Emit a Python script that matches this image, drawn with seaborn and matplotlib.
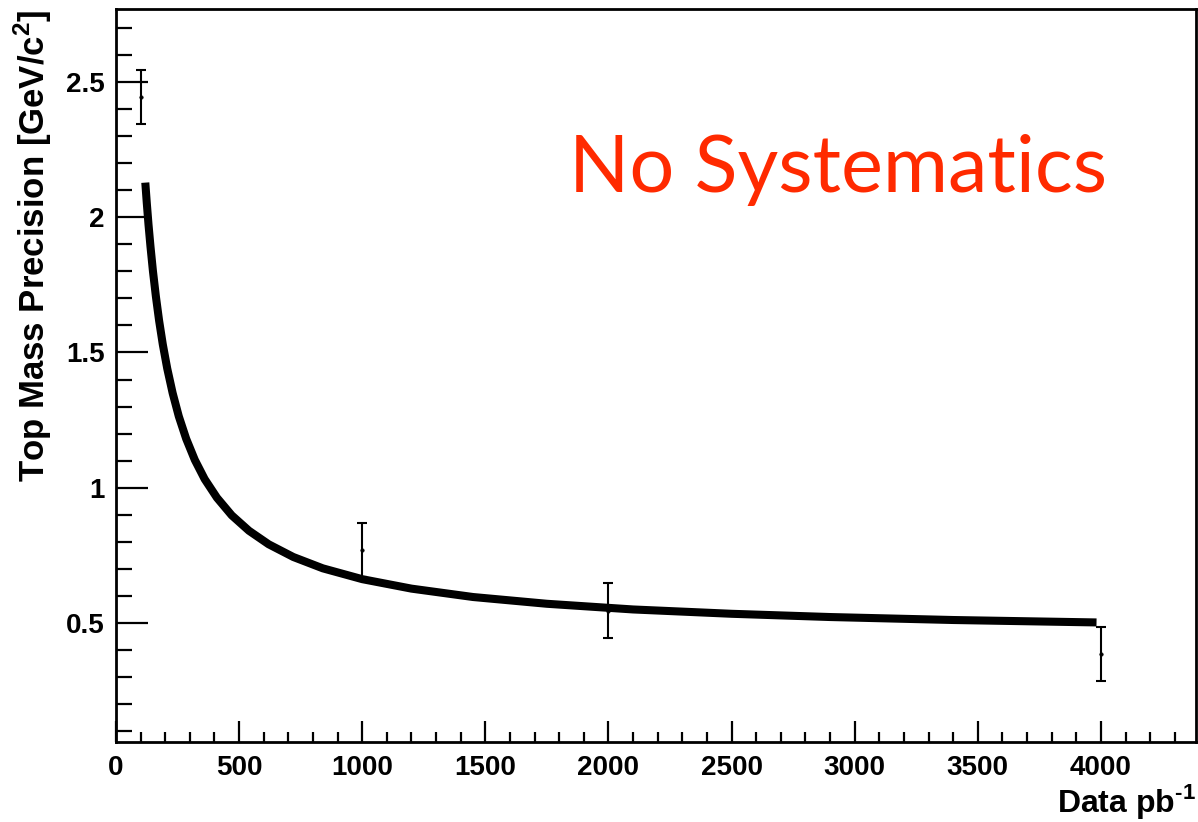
import numpy as np
import pandas as pd
import matplotlib
matplotlib.use("Agg")
import matplotlib.pyplot as plt
import seaborn as sns
from matplotlib.ticker import MultipleLocator, FormatStrFormatter

# Measured points (luminosity in pb^-1, precision in GeV/c^2, error)
lumi = [100, 1000, 2000, 4000]
precision = [2.445, 0.771, 0.546, 0.385]
error = [0.10, 0.10, 0.10, 0.10]

# Fitted curve, values
curve_lumi = [119, 125, 132, 140, 150, 162, 175, 190, 208, 230, 255, 285,
              320, 360, 410, 470, 540, 620, 720, 840, 1000, 1200, 1450,
              1750, 2100, 2500, 2900, 3400, 3982]
curve_prec = [2.128, 2.053, 1.973, 1.892, 1.801, 1.707, 1.618, 1.530,
              1.441, 1.350, 1.264, 1.181, 1.103, 1.032, 0.963, 0.898,
              0.841, 0.791, 0.744, 0.702, 0.662, 0.627, 0.596, 0.571,
              0.550, 0.534, 0.522, 0.511, 0.502]

xticks = [0, 500, 1000, 1500, 2000, 2500, 3000, 3500, 4000]
yticks = [0.5, 1, 1.5, 2, 2.5]

sns.set_theme(style="ticks")
plt.rcParams['font.family'] = ['Liberation Sans', 'DejaVu Sans']
plt.rcParams['mathtext.fontset'] = 'custom'
plt.rcParams['mathtext.rm'] = 'Liberation Sans:bold'
plt.rcParams['mathtext.bf'] = 'Liberation Sans:bold'
plt.rcParams['text.color'] = 'black'
plt.rcParams['axes.labelcolor'] = 'black'
plt.rcParams['xtick.color'] = 'black'
plt.rcParams['ytick.color'] = 'black'

fig = plt.figure(figsize=(11.98, 8.22), dpi=100)
ax = fig.add_axes([116 / 1198, 80 / 822, 1080 / 1198, 732.5 / 822])

df_curve = pd.DataFrame({"lumi": curve_lumi, "prec": curve_prec})
sns.lineplot(data=df_curve, x="lumi", y="prec", ax=ax, color="black",
             linewidth=5.8, sort=True, estimator=None,
             solid_joinstyle='round', solid_capstyle='butt')

ax.errorbar(lumi, precision, yerr=error, fmt="none", ecolor="black",
            elinewidth=1.5, capsize=3.5, capthick=1.5)
df_pts = pd.DataFrame({"lumi": lumi, "prec": precision})
sns.scatterplot(data=df_pts, x="lumi", y="prec", ax=ax, color="black",
                s=6, edgecolor="black", linewidth=0.5, zorder=5)

ax.set_xlim(0, 4386)
ax.set_ylim(0.06, 2.768)

ax.set_xticks(xticks)
ax.set_yticks(yticks)
ax.xaxis.set_minor_locator(MultipleLocator(100))
ax.yaxis.set_minor_locator(MultipleLocator(0.1))
ax.yaxis.set_major_formatter(FormatStrFormatter('%g'))

ax.tick_params(axis='both', which='both', direction='in', width=1.6,
               color='black', labelcolor='black', top=False, right=False)
ax.tick_params(axis='x', which='major', length=15, pad=9, labelsize=20)
ax.tick_params(axis='x', which='minor', length=7.5)
ax.tick_params(axis='y', which='major', length=23, pad=8, labelsize=20)
ax.tick_params(axis='y', which='minor', length=11.5)
for lab in ax.get_xticklabels() + ax.get_yticklabels():
    lab.set_fontweight('bold')

for sp in ax.spines.values():
    sp.set_visible(True)
    sp.set_linewidth(2.0)
    sp.set_color('black')

ax.set_xlabel(r"Data pb$^{\mathbf{\text{-}1}}$", fontsize=23,
              fontweight='bold', loc='right', labelpad=1)
ax.set_ylabel(r"Top Mass Precision [GeV/c$^{\mathbf{2}}$]", fontsize=25,
              fontweight='bold', loc='top', labelpad=9)

ax.text(0.4194, 0.751, "No Systematics", transform=ax.transAxes,
        fontsize=57, color="#FF2A00", family=['Lato', 'DejaVu Sans'],
        ha='left', va='baseline')

fig.savefig("out.png", dpi=100)
